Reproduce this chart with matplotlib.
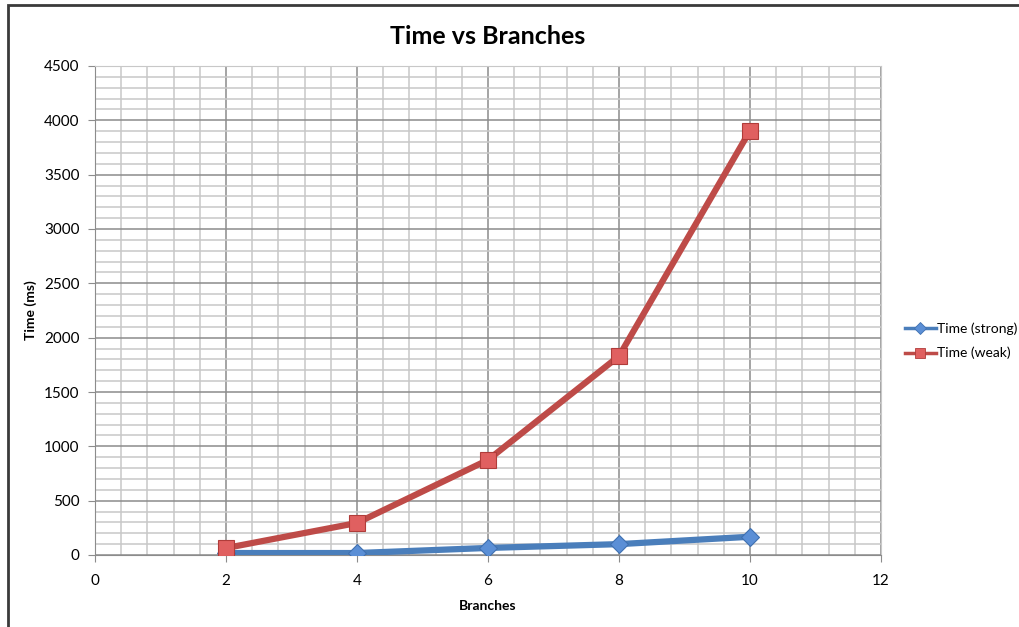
import matplotlib
matplotlib.use("Agg")
import matplotlib.pyplot as plt
from matplotlib.patches import Rectangle
from matplotlib.lines import Line2D
from matplotlib.ticker import MultipleLocator

plt.rcParams['font.family'] = ['Lato', 'DejaVu Sans']

branches = [2, 4, 6, 8, 10]
time_strong = [18, 18, 65, 100, 168]
time_weak = [64, 295, 875, 1830, 3905]

fig = plt.figure(figsize=(10.19, 6.27), dpi=100)
ax = fig.add_axes([95 / 1019, 1 - 555 / 627, (881 - 95) / 1019, (555 - 66) / 627])

# outer chart frame (only left and top edges are visible in the original)
fig.patches.append(Rectangle((8 / 1019, -0.05), 1.1, 1.05 - 5 / 627,
                             transform=fig.transFigure, fill=False,
                             edgecolor='#3a3a3a', linewidth=2))

ax.plot(branches, time_strong, color='#4a7ebb', linewidth=4.5, marker='D',
        markersize=9, markerfacecolor='#5b8fd6', markeredgecolor='#3f70b0',
        markeredgewidth=0.8, zorder=3)
ax.plot(branches, time_weak, color='#be4b48', linewidth=4.5, marker='s',
        markersize=11, markerfacecolor='#e06060', markeredgecolor='#b03c3a',
        markeredgewidth=0.8, zorder=3)

ax.set_xlim(0, 12)
ax.set_ylim(0, 4500)
ax.xaxis.set_major_locator(MultipleLocator(2))
ax.xaxis.set_minor_locator(MultipleLocator(0.4))
ax.yaxis.set_major_locator(MultipleLocator(500))
ax.yaxis.set_minor_locator(MultipleLocator(100))
ax.grid(which='major', color='#8c8c8c', linewidth=1.1)
ax.grid(which='minor', color='#c8c8c8', linewidth=1.1)
ax.set_axisbelow(True)

for side in ['top', 'right']:
    ax.spines[side].set_color('#c8c8c8')
for side in ['left', 'bottom']:
    ax.spines[side].set_color('#8c8c8c')
ax.tick_params(which='major', length=5, color='#8c8c8c', labelsize=11, pad=6)
ax.tick_params(which='minor', length=0)
ax.tick_params(axis='x', pad=9)

ax.set_title('Time vs Branches', fontsize=18, fontweight='bold', pad=16)
ax.set_xlabel('Branches', fontsize=10, fontweight='bold', labelpad=8)
ax.set_ylabel('Time (ms)', fontsize=10, fontweight='bold', labelpad=5)

# smaller legend handles like the original
handles = [
    Line2D([], [], color='#4a7ebb', linewidth=2.5, marker='D', markersize=6,
           markerfacecolor='#5b8fd6', markeredgecolor='#3f70b0', markeredgewidth=0.6),
    Line2D([], [], color='#be4b48', linewidth=2.5, marker='s', markersize=7,
           markerfacecolor='#e06060', markeredgecolor='#b03c3a', markeredgewidth=0.6),
]
fig.legend(handles, ['Time (strong)', 'Time (weak)'], loc='center left',
           bbox_to_anchor=(905 / 1019, 1 - 341 / 627), frameon=False,
           fontsize=10, handlelength=2.2, handletextpad=0.1, labelspacing=0.85,
           borderpad=0, borderaxespad=0)

fig.savefig('out.png', dpi=100)
